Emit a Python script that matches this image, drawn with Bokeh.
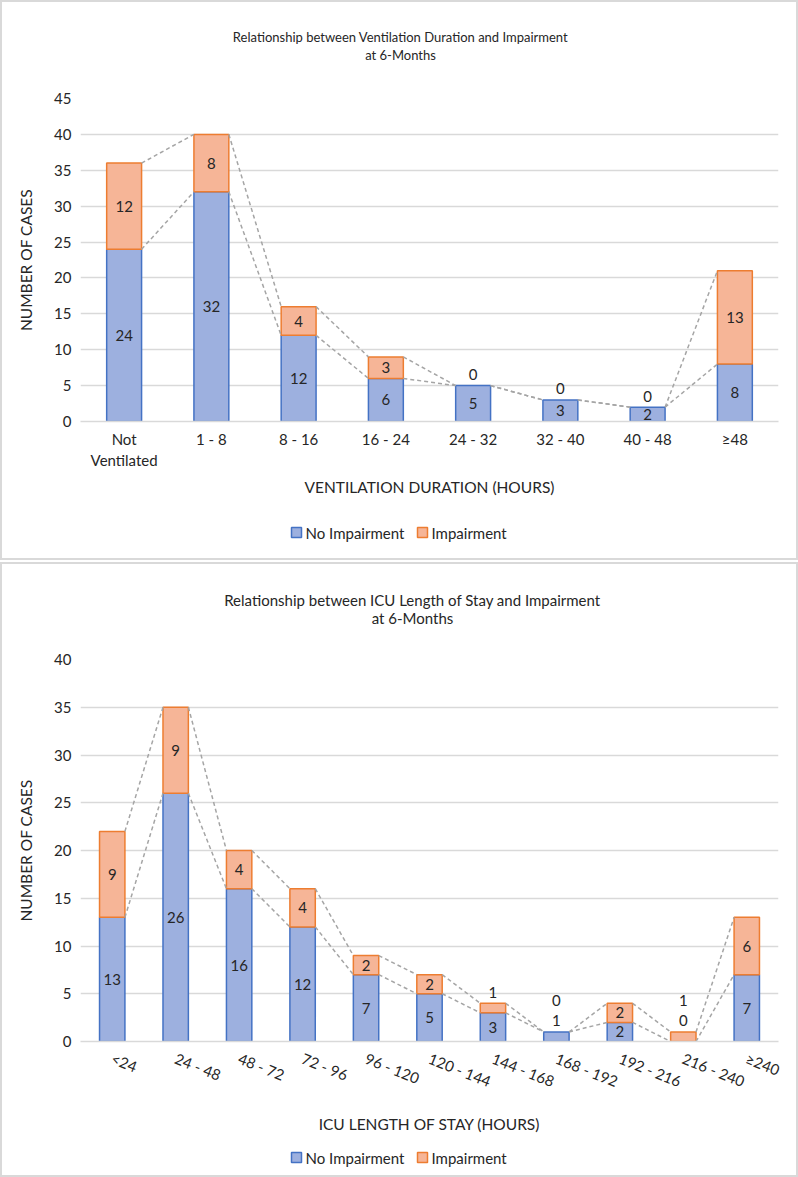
from bokeh.plotting import figure
from bokeh.models import Range1d, FixedTicker, ColumnDataSource
from bokeh.layouts import column
from bokeh.embed import file_html
from bokeh.resources import INLINE
from bokeh.core.properties import value

FONT = "Lato"
TXT = "#262626"
BLUE_FILL = "#9DB0DF"
BLUE_LINE = "#4472C4"
ORANGE_FILL = "#F6B597"
ORANGE_LINE = "#ED7D31"
GRID = "#D9D9D9"
W = 794
LEFT, RIGHT = 78, 18

# ---- data: ventilation duration chart ----
vent_title = ["Relationship between Ventilation Duration and Impairment", "at 6-Months"]
vent_cats = ["Not\nVentilated", "1 - 8", "8 - 16", "16 - 24", "24 - 32", "32 - 40", "40 - 48", "\u226548"]
vent_no_impairment = [24, 32, 12, 6, 5, 3, 2, 8]
vent_impairment = [12, 8, 4, 3, 0, 0, 0, 13]
vent_xlabel = "VENTILATION DURATION (HOURS)"
vent_ymax = 45

# ---- data: ICU length of stay chart ----
icu_title = ["Relationship between ICU Length of Stay and Impairment", "at 6-Months"]
icu_cats = ["<24", "24 - 48", "48 - 72", "72 - 96", "96 - 120", "120 - 144", "144 - 168",
            "168 - 192", "192 - 216", "216 - 240", "\u2265240"]
icu_no_impairment = [13, 26, 16, 12, 7, 5, 3, 1, 2, 0, 7]
icu_impairment = [9, 9, 4, 4, 2, 2, 1, 0, 2, 1, 6]
icu_xlabel = "ICU LENGTH OF STAY (HOURS)"
icu_ymax = 40

ylabel = "NUMBER OF CASES"
series_names = ["No Impairment", "Impairment"]


def band(height):
    # the column aligns this band's frame with the chart frame below it,
    # so the x range is expressed in block pixels of that frame span
    b = figure(width=W, height=height, x_range=Range1d(LEFT, W - RIGHT), y_range=Range1d(0, height),
               output_backend="svg", toolbar_location=None, x_axis_type=None, y_axis_type=None,
               min_border=0, min_border_left=LEFT, min_border_right=RIGHT)
    b.outline_line_color = None
    b.xgrid.grid_line_color = None
    b.ygrid.grid_line_color = None
    return b


def title_band(titles, height, cx, ys, size):
    b = band(height)
    b.text(x=[cx, cx], y=ys, text=titles, text_align="center", text_baseline="middle",
           text_font=value(FONT), text_font_size=size, text_color=TXT)
    return b


def legend_band(height, y):
    b = band(height)
    b.rect(x=[294, 420], y=[y, y], width=10, height=10, width_units="screen", height_units="screen",
           fill_color=[BLUE_FILL, ORANGE_FILL], line_color=[BLUE_LINE, ORANGE_LINE], line_width=1.5)
    b.text(x=[303, 429], y=[y, y], text=series_names, text_align="left", text_baseline="middle",
           text_font=value(FONT), text_font_size="15px", text_color=TXT)
    return b


def chart(cats, no_imp, imp, ymax, xlabel, height, bottom_border, orientation, label_standoff,
          axis_label_standoff):
    n = len(cats)
    idx = list(range(n))
    totals = [a + b for a, b in zip(no_imp, imp)]
    bw = 0.4

    p = figure(width=W, height=height, x_range=Range1d(-0.5, n - 0.5), y_range=Range1d(0, ymax),
               output_backend="svg", toolbar_location=None,
               min_border_left=LEFT, min_border_right=RIGHT, min_border_top=10,
               min_border_bottom=bottom_border)
    p.outline_line_color = None

    blue = ColumnDataSource(dict(x=[i for i in idx if no_imp[i] > 0],
                                 bottom=[0 for i in idx if no_imp[i] > 0],
                                 top=[no_imp[i] for i in idx if no_imp[i] > 0]))
    orange = ColumnDataSource(dict(x=[i for i in idx if imp[i] > 0],
                                   bottom=[no_imp[i] for i in idx if imp[i] > 0],
                                   top=[totals[i] for i in idx if imp[i] > 0]))
    p.vbar(x="x", bottom="bottom", top="top", width=bw, source=blue,
           fill_color=BLUE_FILL, line_color=BLUE_LINE, line_width=1.5)
    p.vbar(x="x", bottom="bottom", top="top", width=bw, source=orange,
           fill_color=ORANGE_FILL, line_color=ORANGE_LINE, line_width=1.5)

    # series lines joining the stack tops of neighbouring bars
    x0, x1, y0, y1 = [], [], [], []
    for i in range(n - 1):
        for s in (no_imp, totals):
            x0.append(i + bw / 2)
            x1.append(i + 1 - bw / 2)
            y0.append(s[i])
            y1.append(s[i + 1])
    p.segment(x0=x0, y0=y0, x1=x1, y1=y1, line_color="#A5A5A5", line_width=1.5, line_dash="4 3")

    # data labels: centred in the segment, or stacked above the bar if the segment is too small
    lx, ly, lt, lo = [], [], [], []
    min_inside = 1.5
    for i in idx:
        k = 0
        for base, h in ((0, no_imp[i]), (no_imp[i], imp[i])):
            lx.append(i)
            lt.append(str(h))
            if h >= min_inside:
                ly.append(base + h / 2)
                lo.append(0)
            else:
                ly.append(totals[i])
                lo.append(-(11 + 20 * k))
                k += 1
    p.text(x=lx, y=ly, text=lt, y_offset=lo, text_align="center", text_baseline="middle",
           text_font=value(FONT), text_font_size="15px", text_color=TXT)

    p.xaxis.ticker = FixedTicker(ticks=idx)
    p.xaxis.major_label_overrides = {i: c for i, c in enumerate(cats)}
    p.xaxis.major_label_orientation = orientation
    p.xaxis.major_label_standoff = label_standoff
    p.xaxis.axis_label = xlabel
    p.xaxis.axis_label_standoff = axis_label_standoff
    p.xaxis.axis_line_color = GRID
    p.xaxis.axis_line_width = 1.5
    p.xaxis.major_tick_line_color = None
    p.xaxis.minor_tick_line_color = None

    p.yaxis.ticker = FixedTicker(ticks=list(range(0, ymax + 1, 5)))
    p.yaxis.axis_label = ylabel
    p.yaxis.axis_label_standoff = 16
    p.yaxis.major_label_standoff = 3
    p.yaxis.axis_line_color = None
    p.yaxis.major_tick_line_color = None
    p.yaxis.minor_tick_line_color = None

    for ax in (p.xaxis[0], p.yaxis[0]):
        ax.major_label_text_font = FONT
        ax.major_label_text_font_size = "15px"
        ax.major_label_text_color = TXT
        ax.axis_label_text_font = FONT
        ax.axis_label_text_font_size = "15.5px"
        ax.axis_label_text_font_style = "normal"
        ax.axis_label_text_color = TXT

    p.xgrid.grid_line_color = None
    p.ygrid.grid_line_color = GRID
    p.ygrid.grid_line_width = 1.5
    return p


BOX = {"border": "2px solid #D9D9D9", "background-color": "white"}

top_block = column(
    title_band(vent_title, 86, 398, [52, 34], "13px"),
    chart(vent_cats, vent_no_impairment, vent_impairment, vent_ymax, vent_xlabel,
          height=419, bottom_border=86, orientation="horizontal", label_standoff=2,
          axis_label_standoff=6),
    legend_band(51, 26),
    spacing=0, styles=BOX)

bottom_block = column(
    title_band(icu_title, 85, 410, [50, 32], "15px"),
    chart(icu_cats, icu_no_impairment, icu_impairment, icu_ymax, icu_xlabel,
          height=487, bottom_border=92, orientation=-0.38, label_standoff=10,
          axis_label_standoff=14),
    legend_band(39, 18),
    spacing=0, styles=BOX)

layout = column(top_block, bottom_block, spacing=2)
layout.styles = {"position": "absolute", "top": "0px", "left": "0px"}

open("out.html", "w").write(file_html(layout, INLINE))
